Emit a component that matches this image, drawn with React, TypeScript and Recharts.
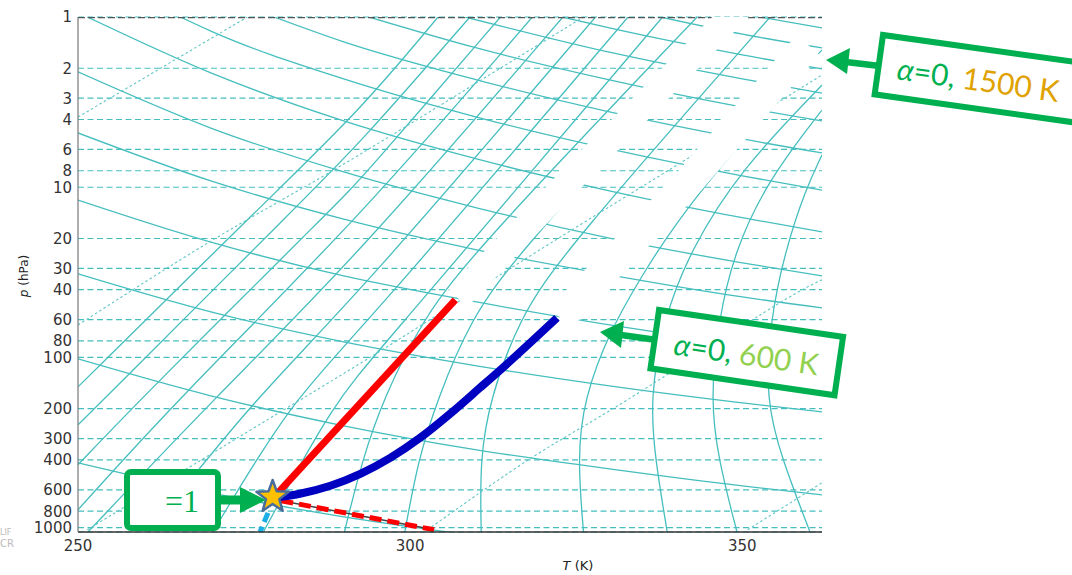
import React from 'react';
import { ComposedChart, Line, Scatter, XAxis, YAxis, CartesianGrid } from 'recharts';

// axis ticks
const P_TICKS = [1, 2, 3, 4, 6, 8, 10, 20, 30, 40, 60, 80, 100, 200, 300, 400, 600, 800, 1000];
const T_TICKS = [250, 300, 350];

// background curves, [T (K), p (hPa)]
const DESCENDING_LINES = [
  [[251.4, 1], [270, 2.13], [290, 4.08], [310, 6.82], [330, 10.5], [350, 15.1], [362, 18.3]],
  [[265.4, 1], [270, 1.21], [290, 2.31], [310, 3.87], [330, 5.96], [350, 8.58], [362, 10.4]],
  [[279.5, 1], [290, 1.4], [310, 2.34], [330, 3.61], [350, 5.2], [362, 6.29]],
  [[293.8, 1], [310, 1.52], [330, 2.34], [350, 3.38], [362, 4.08]],
  [[308.3, 1], [330, 1.61], [350, 2.31], [362, 2.8]],
  [[322.9, 1], [330, 1.16], [350, 1.67], [362, 2.02]],
  [[337.7, 1], [350, 1.26], [362, 1.52]],
  [[352.6, 1], [362, 1.16]],
  [[250, 2.1], [270, 4.49], [290, 8.13], [310, 13.2], [330, 19.9], [350, 27.8], [362, 33.2]],
  [[250, 4.8], [270, 9.18], [290, 15.4], [310, 23.3], [330, 32.7], [350, 44.1], [362, 51.1]],
  [[250, 11.9], [270, 21.0], [290, 33.2], [310, 47.2], [330, 64.4], [350, 83.2], [362, 94.0]],
  [[250, 32.3], [270, 54.0], [290, 81.0], [310, 112], [330, 147], [350, 185], [362, 209]],
  [[250, 102], [270, 168], [290, 252], [310, 349], [330, 451], [350, 568], [362, 641]],
  [[250, 416], [270, 624], [290, 863], [310, 1116]],
];

const STEEP_LINES = [
  [[250, 148.8], [278.5, 11.87], [292.5, 3.52], [304.2, 1]],
  [[250, 248.8], [253.8, 177.4], [283.9, 11.87], [292.5, 5.49], [309.0, 1]],
  [[250, 427], [259.3, 177.4], [289.5, 11.87], [292.5, 9.06], [313.6, 1]],
  [[250, 785], [264.9, 177.4], [292.5, 14.94], [318.4, 1]],
  [[251.5, 1060], [270.3, 177.4], [292.5, 24.3], [323.0, 1]],
  [[260.7, 1060], [276.4, 177.4], [292.5, 41.7], [327.9, 1]],
  [[270.3, 1060], [282.2, 177.4], [292.5, 70.7], [332.8, 1]],
  [[277.9, 1060], [288.7, 177.4], [295.5, 90.2], [338.0, 1]],
  [[290.1, 1060], [292.8, 399], [295.9, 177.4], [301.8, 60.1], [309.8, 23.35], [343.2, 1]],
  [[299.2, 1060], [301.2, 399], [304.1, 177.4], [309.0, 60.1], [316.6, 23.35], [348.6, 1]],
  [[310.7, 1060], [310.5, 399], [312.0, 177.4], [316.3, 60.1], [323.3, 23.35], [354.2, 1]],
  [[326.1, 1060], [325.2, 399], [326.1, 177.4], [330.1, 68.9], [335.4, 30.6], [342.2, 11.87], [362.0, 1.56]],
  [[338.7, 1060], [336.9, 399], [336.1, 177.4], [338.1, 60.1], [342.2, 23.35], [349.7, 7.91], [362.0, 2.51]],
  [[349.2, 1060], [346.4, 399], [345.2, 177.4], [346.4, 60.1], [348.9, 23.35], [353.9, 9.06], [362.0, 3.52]],
  [[360.2, 1060], [356.0, 399], [353.5, 177.4], [354.2, 60.1], [356.5, 23.35], [359.5, 10.37], [362.0, 6.46]],
];

const DOTTED_LINES = [
  [[250, 3.87], [275.5, 1]],
  [[250, 64.4], [270.3, 20.4], [288.0, 8.13], [307.5, 2.8], [326.1, 1]],
  [[251.4, 1029], [275.5, 273.5], [296.5, 86.7], [316.6, 27.5], [340.2, 7.4], [362.0, 2.19]],
  [[302.6, 1029], [318.5, 383.5], [332.7, 177.4], [353.2, 54.7], [362.0, 35.0]],
  [[350.8, 1029], [362.0, 544.9]],
];

// white masking strips above the two profiles
const WHITE_BANDS = [
  [[307.2, 44.7], [325.6, 7.91], [350.0, 0.85]],
  [[322.6, 58.6], [342.2, 9.06], [359.9, 1.46]],
];

const TOP_FRAME = [[250, 1], [362, 1]];
const RED_PROFILE = [[279.4, 668], [306.8, 45.9]];
const BLUE_PROFILE = [
  [279.4, 668], [283.4, 632], [288.0, 567], [292.5, 483], [297.0, 389],
  [301.5, 296.6], [306.0, 214.4], [310.5, 150.8], [315.1, 104.7], [322.1, 58.6],
];
const RED_DASHED = [[280.6, 695], [303.6, 1028]];
const CYAN_DASHED = [[278.6, 818], [277.4, 1060]];
const START_POINT = [[279.3, 660]];

const pts = (line: number[][]) => line.map(([T, p]) => ({ T, p }));

const GRID = '#46bebe';
const GREEN = '#00b050';

const StarShape = (props: any) => {
  const { cx, cy } = props;
  const R = 17;
  const r = 7;
  const points = Array.from({ length: 10 }, (_, i) => {
    const a = -Math.PI / 2 + (i * Math.PI) / 5;
    const rr = i % 2 ? r : R;
    return `${cx + rr * Math.cos(a)},${cy + rr * Math.sin(a)}`;
  }).join(' ');
  return <polygon points={points} fill="#ffc000" stroke="#4a6c9b" strokeWidth={2.5} strokeLinejoin="round" />;
};

const Overlay = () => (
  <svg width={1072} height={575} style={{ position: 'absolute', left: 0, top: 0, pointerEvents: 'none' }}>
    {/* axis titles */}
    <text transform="translate(28,276) rotate(-90)" textAnchor="middle" fontSize={12} fontFamily="DejaVu Sans" fill="#222">
      <tspan fontStyle="italic">p</tspan> (hPa)
    </text>
    <text x={578} y={570} textAnchor="middle" fontSize={13} fontFamily="DejaVu Sans" fill="#222">
      <tspan fontStyle="italic">T</tspan> (K)
    </text>
    <text x={0} y={535} fontSize={8} fontFamily="DejaVu Sans" fill="#bbb">LIF</text>
    <text x={0} y={547} fontSize={10} fontFamily="DejaVu Sans" fill="#bbb">CR</text>

    {/* 1500 K callout */}
    <line x1={846} y1={62} x2={880} y2={66} stroke={GREEN} strokeWidth={6.5} />
    <polygon points="826,60 850,48 847,74" fill={GREEN} />
    <g transform="rotate(8 883 35)">
      <rect x={883} y={35} width={230} height={60} fill="#fff" stroke={GREEN} strokeWidth={6} />
      <text x={902} y={77} fontSize={30} fontFamily="Lato">
        <tspan fill={GREEN} fontStyle="italic">α</tspan>
        <tspan fill={GREEN}>=0, </tspan>
        <tspan fill="#e0a200">1500 K</tspan>
      </text>
    </g>

    {/* 600 K callout */}
    <line x1={621} y1={335} x2={657} y2={340} stroke={GREEN} strokeWidth={6.5} />
    <polygon points="600,332 624,321 621,348" fill={GREEN} />
    <g transform="rotate(8.3 659 310)">
      <rect x={659} y={310} width={186} height={59} fill="#fff" stroke={GREEN} strokeWidth={6} />
      <text x={679} y={352} fontSize={30} fontFamily="Lato">
        <tspan fill={GREEN} fontStyle="italic">α</tspan>
        <tspan fill={GREEN}>=0, </tspan>
        <tspan fill="#92d050">600 K</tspan>
      </text>
    </g>

    {/* =1 callout */}
    <rect x={127} y={472} width={91} height={56} rx={4} fill="#fff" stroke={GREEN} strokeWidth={6} />
    <text x={165} y={512} fontSize={32} fontFamily="Liberation Serif" fill={GREEN}>=1</text>
    <line x1={218} y1={500} x2={243} y2={500} stroke={GREEN} strokeWidth={9} />
    <polygon points="266,500 240,487 240,513" fill={GREEN} />
  </svg>
);

const App = () => {
  return (
    <div style={{ position: 'relative', width: 1072, height: 575, overflow: 'hidden' }}>
      <style>{'html, body { margin: 0; padding: 0; overflow: hidden; }'}</style>
      <div style={{ position: 'absolute', left: 8, top: 8 }}>
        <ComposedChart width={1056} height={559} margin={{ top: 9, right: 242, bottom: 5, left: 0 }}>
          <CartesianGrid vertical={false} stroke={GRID} strokeDasharray="6 3.5" strokeWidth={1.2} />
          <XAxis
            type="number"
            dataKey="T"
            domain={[250, 362]}
            ticks={T_TICKS}
            allowDataOverflow
            height={30}
            tickLine={false}
            tickMargin={2}
            axisLine={{ stroke: '#333', strokeWidth: 1.5 }}
            tick={{ fill: '#333', fontSize: 15, fontFamily: 'DejaVu Sans' }}
          />
          <YAxis
            type="number"
            dataKey="p"
            scale="log"
            domain={[1, 1060]}
            reversed
            allowDataOverflow
            ticks={P_TICKS}
            interval={0}
            width={70}
            tickLine={false}
            tickMargin={0}
            axisLine={{ stroke: '#777', strokeWidth: 1.2 }}
            tick={{ fill: '#333', fontSize: 15, fontFamily: 'DejaVu Sans' }}
          />

          {STEEP_LINES.map((l, i) => (
            <Line key={`s${i}`} data={pts(l)} dataKey="p" type="basis" stroke={GRID} strokeWidth={1.3}
              dot={false} activeDot={false} isAnimationActive={false} legendType="none" />
          ))}
          {DESCENDING_LINES.map((l, i) => (
            <Line key={`d${i}`} data={pts(l)} dataKey="p" type="monotone" stroke={GRID} strokeWidth={1.3}
              dot={false} activeDot={false} isAnimationActive={false} legendType="none" />
          ))}
          {DOTTED_LINES.map((l, i) => (
            <Line key={`m${i}`} data={pts(l)} dataKey="p" type="natural" stroke="#5ec6c6" strokeWidth={1.1}
              strokeDasharray="2.5 2.5" dot={false} activeDot={false} isAnimationActive={false} legendType="none" />
          ))}
          <Line data={pts(TOP_FRAME)} dataKey="p" type="linear" stroke="#555" strokeWidth={2.5} strokeDasharray="7 3"
            dot={false} activeDot={false} isAnimationActive={false} legendType="none" />
          {WHITE_BANDS.map((l, i) => (
            <Line key={`w${i}`} data={pts(l)} dataKey="p" type="linear" stroke="#fff" strokeWidth={i ? 30 : 26}
              strokeLinecap="butt" dot={false} activeDot={false} isAnimationActive={false} legendType="none" />
          ))}

          <Line data={pts(RED_DASHED)} dataKey="p" type="linear" stroke="#444" strokeWidth={1.5}
            dot={false} activeDot={false} isAnimationActive={false} legendType="none" />
          <Line data={pts(RED_DASHED)} dataKey="p" type="linear" stroke="#ff0000" strokeWidth={5} strokeDasharray="12 6"
            dot={false} activeDot={false} isAnimationActive={false} legendType="none" />
          <Line data={pts(CYAN_DASHED)} dataKey="p" type="linear" stroke="#1caee6" strokeWidth={5} strokeDasharray="10 5"
            dot={false} activeDot={false} isAnimationActive={false} legendType="none" />
          <Line data={pts(RED_PROFILE)} dataKey="p" type="linear" stroke="#ff0000" strokeWidth={7}
            dot={false} activeDot={false} isAnimationActive={false} legendType="none" />
          <Line data={pts(BLUE_PROFILE)} dataKey="p" type="monotone" stroke="#0000c0" strokeWidth={8}
            dot={false} activeDot={false} isAnimationActive={false} legendType="none" />
          <Scatter data={pts(START_POINT)} dataKey="p" shape={StarShape} isAnimationActive={false} legendType="none" />
        </ComposedChart>
      </div>
      <Overlay />
    </div>
  );
};

export default App;
